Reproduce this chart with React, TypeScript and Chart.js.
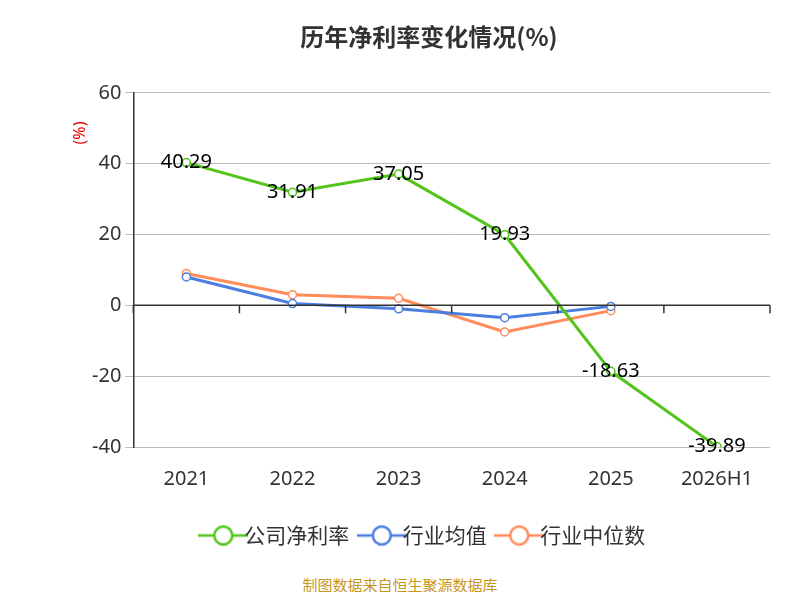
import React, { useEffect, useRef } from "react";
import { Chart, registerables } from "chart.js";
Chart.register(...registerables);

const categories = ["2021", "2022", "2023", "2024", "2025", "2026H1"];
const companyMargin = [40.29, 31.91, 37.05, 19.93, -18.63, -39.89];
const industryAvg = [8.0, 0.5, -1.0, -3.5, -0.3, null];
const industryMedian = [9.0, 3.0, 2.0, -7.5, -1.5, null];
const yTicks = [60, 40, 20, 0, -20, -40];

const extras = {
  id: "extras",
  afterDatasetsDraw(chart: any) {
    const { ctx, chartArea, scales } = chart;
    const y0 = scales.y.getPixelForValue(0);
    ctx.save();
    ctx.strokeStyle = "#333";
    ctx.lineWidth = 1.5;
    ctx.beginPath();
    ctx.moveTo(chartArea.left, y0);
    ctx.lineTo(chartArea.right, y0);
    const n = categories.length;
    const w = (chartArea.right - chartArea.left) / n;
    for (let i = 0; i <= n; i++) {
      const x = chartArea.left + i * w;
      ctx.moveTo(x, y0);
      ctx.lineTo(x, y0 + 8);
    }
    ctx.stroke();
    ctx.font = "20px 'Noto Sans', sans-serif";
    ctx.fillStyle = "#000";
    ctx.textAlign = "center";
    ctx.textBaseline = "middle";
    const meta = chart.getDatasetMeta(0);
    meta.data.forEach((p: any, i: number) => {
      ctx.fillText(companyMargin[i].toFixed(2), p.x, p.y);
    });
    ctx.fillStyle = "#e00";
    ctx.font = "16px 'Noto Sans', sans-serif";
    ctx.translate(72, 125);
    ctx.rotate(-Math.PI / 2);
    ctx.fillText("(%)", 0, 0);
    ctx.restore();
  },
};

function legendIcon(color: string) {
  const c = document.createElement("canvas");
  c.width = 50; c.height = 24;
  const g = c.getContext("2d")!;
  g.strokeStyle = color; g.lineWidth = 2.5;
  g.beginPath(); g.moveTo(0, 12); g.lineTo(50, 12); g.stroke();
  g.fillStyle = "#fff";
  g.beginPath(); g.arc(25, 12, 9, 0, Math.PI * 2); g.fill(); g.stroke();
  return c;
}

export default function App() {
  const ref = useRef<HTMLCanvasElement>(null);
  useEffect(() => {
    const mk = (label: string, data: any[], color: string) => ({
      label, data, borderColor: color, backgroundColor: "#fff",
      pointBorderColor: color, pointBackgroundColor: "#fff",
      pointRadius: 4, borderWidth: 3, pointBorderWidth: 1.5, spanGaps: false,
    });
    const colors = ["#52c41a", "#4a7fe0", "#ff8c5a"];
    const icons = colors.map(legendIcon);
    const chart = new Chart(ref.current!, {
      type: "line",
      data: {
        labels: categories,
        datasets: [
          mk("公司净利率", companyMargin, colors[0]),
          mk("行业均值", industryAvg, colors[1]),
          mk("行业中位数", industryMedian, colors[2]),
        ],
      },
      options: {
        animation: false,
        responsive: false,
        layout: { padding: { left: 80, right: 22, top: 10, bottom: 12 } },
        plugins: {
          title: {
            display: true, text: "历年净利率变化情况(%)", color: "#333",
            font: { size: 24, weight: "bold", family: "'Noto Sans CJK SC'" },
            padding: { top: 4, bottom: 42 },
          },
          legend: {
            position: "bottom",
            labels: {
              usePointStyle: true, color: "#333",
              font: { size: 21, family: "'Noto Sans CJK SC'" }, padding: 22,
              generateLabels: (ch: any) =>
                ch.data.datasets.map((d: any, i: number) => ({
                  text: d.label, pointStyle: icons[i], fontColor: "#333",
                  strokeStyle: colors[i], fillStyle: "#fff", lineWidth: 0, datasetIndex: i,
                })),
            },
          },
          tooltip: { enabled: false },
        },
        scales: {
          x: {
            offset: true,
            grid: { display: false },
            border: { display: false },
            ticks: { color: "#333", font: { size: 20, family: "'Noto Sans'" }, padding: 12 },
          },
          y: {
            min: -40, max: 60,
            afterBuildTicks: (s: any) => { s.ticks = yTicks.map((v) => ({ value: v })); },
            grid: { color: "#bbb", borderDash: [6, 4], drawTicks: true, tickLength: 8 } as any,
            border: { display: true, color: "#333", width: 1.5 } as any,
            ticks: { color: "#333", font: { size: 20, family: "'Noto Sans'" }, padding: 4 },
          },
        },
      } as any,
      plugins: [extras],
    });
    return () => chart.destroy();
  }, []);
  return (
    <div style={{ position: "relative", width: 784, height: 584 }}>
      <canvas ref={ref} width={784} height={560} />
      <div style={{ position: "absolute", top: 566, width: "100%", textAlign: "center",
        color: "#c8961e", fontSize: 15, fontFamily: "'Noto Sans CJK SC'" }}>
        制图数据来自恒生聚源数据库
      </div>
    </div>
  );
}
